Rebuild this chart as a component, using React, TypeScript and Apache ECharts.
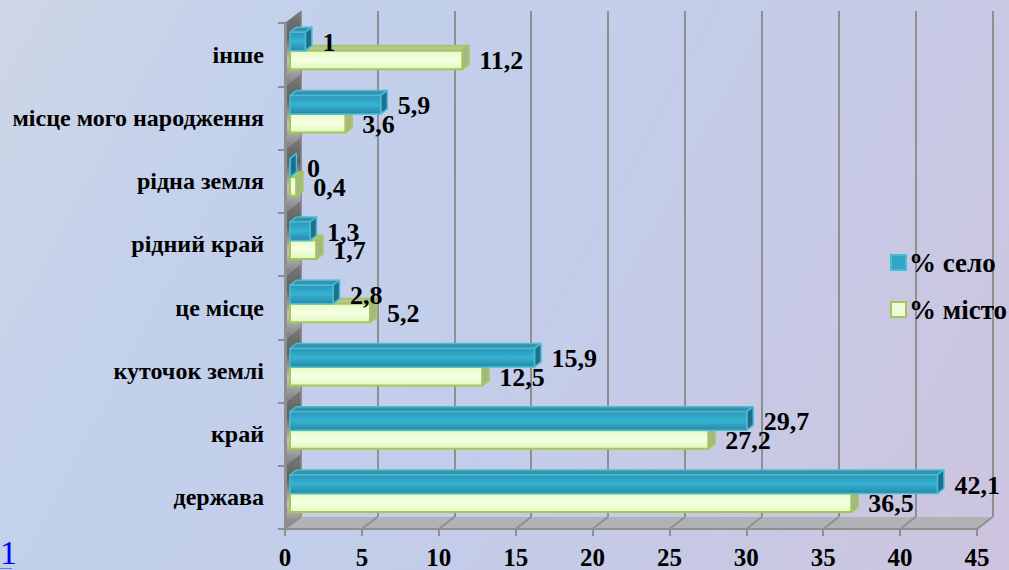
import React, { useEffect, useRef } from "react";
import * as echarts from "echarts";

const categories = ["держава", "край", "куточок землі", "це місце", "рідний край", "рідна земля", "місце мого народження", "інше"];
const seloValues = [42.1, 29.7, 15.9, 2.8, 1.3, 0, 5.9, 1];
const mistoValues = [36.5, 27.2, 12.5, 5.2, 1.7, 0.4, 3.6, 11.2];
const seloName = "% село";
const mistoName = "% місто";
const axisTicks = { min: 0, max: 45, interval: 5 };

const FONT = '"Liberation Serif", "Times New Roman", serif';
const GRAY = "#8f8f8f";
const BACK_DX = 15.5;
const BACK_DY = 12;
const BAR_DX = 5;
const BAR_DY = -4;
const SIDE_DX = 6.5;
const SIDE_DY = 5;
const BAR_H = 18.5;

const fmt = (v: number) => String(v).replace(".", ",");
const vGrad = (stops: string[]) =>
  new echarts.graphic.LinearGradient(0, 0, 0, 1, stops.map((color, i) => ({ offset: i / (stops.length - 1), color })));

type Skin = { face: string[]; top: string; side: string; border: string; lineWidth: number };
const tealSkin: Skin = { face: ["#2c95b5", "#35b3d3", "#2a86a4"], top: "#3a8fa9", side: "#1f6f8a", border: "#46bdd6", lineWidth: 1.5 };
const limeSkin: Skin = { face: ["#e6fbc6", "#f6ffe4", "#e2f8bd"], top: "#b7c2a3", side: "#a7b48b", border: "#a4c75a", lineWidth: 2 };

function barRenderer(skin: Skin, slot: number) {
  return (_p: any, api: any) => {
    const v = api.value(0);
    const c = api.value(1);
    const end = api.coord([v, c]);
    const start = api.coord([0, c]);
    const x0 = start[0] + BAR_DX;
    const x1 = end[0] + BAR_DX;
    const yT = end[1] + BAR_DY + (slot - 1) * BAR_H;
    const yB = yT + BAR_H;
    const st = { stroke: skin.border, lineWidth: skin.lineWidth, lineJoin: "round" };
    return {
      type: "group",
      children: [
        { type: "polygon", shape: { points: [[x0, yT], [x0 + SIDE_DX, yT - SIDE_DY], [x1 + SIDE_DX, yT - SIDE_DY], [x1, yT]] }, style: { fill: skin.top, ...st } },
        { type: "polygon", shape: { points: [[x1, yT], [x1 + SIDE_DX, yT - SIDE_DY], [x1 + SIDE_DX, yB - SIDE_DY], [x1, yB]] }, style: { fill: skin.side, ...st } },
        { type: "rect", shape: { x: x0, y: yT, width: x1 - x0, height: BAR_H }, style: { fill: vGrad(skin.face), ...st } },
      ],
    };
  };
}

function labelRenderer(slot: number) {
  return (_p: any, api: any) => {
    const v = api.value(0);
    const c = api.value(1);
    const p = api.coord([v, c]);
    return {
      type: "text",
      style: {
        x: p[0] + BAR_DX + 17,
        y: p[1] + BAR_DY + (slot - 0.5) * BAR_H + 1,
        text: fmt(v),
        font: `bold 26px ${FONT}`,
        fill: "#000",
        textAlign: "left",
        textVerticalAlign: "middle",
      },
    };
  };
}

const wallRenderer = (_p: any, api: any) => {
  const c = api.value(1);
  const p = api.coord([0, c]);
  const h = api.size([0, 1])[1];
  const x = p[0];
  const t = p[1] - h / 2;
  const b = p[1] + h / 2;
  return {
    type: "polygon",
    shape: { points: [[x, t], [x + BACK_DX, t - BACK_DY], [x + BACK_DX, b - BACK_DY], [x, b]] },
    style: { fill: vGrad(["#7a7a7a", "#5f5f5f", "#c4c4c4", "#777777"]) },
  };
};

const floorRenderer = (_p: any, api: any) => {
  const l = api.coord([axisTicks.min, 0]);
  const r = api.coord([axisTicks.max, 0]);
  const h = api.size([0, 1])[1];
  const y = l[1] + h / 2;
  return {
    type: "polygon",
    shape: { points: [[l[0], y], [l[0] + BACK_DX, y - BACK_DY], [r[0] + BACK_DX, y - BACK_DY], [r[0], y]] },
    style: { fill: "#b0b2b6" },
  };
};

const floorLineRenderer = (_p: any, api: any) => {
  const a = api.coord([api.value(0), 0]);
  const h = api.size([0, 1])[1];
  const y = a[1] + h / 2;
  return {
    type: "line",
    shape: { x1: a[0], y1: y, x2: a[0] + BACK_DX, y2: y - BACK_DY },
    style: { stroke: GRAY, lineWidth: 2 },
  };
};

const tickValues: number[] = [];
for (let t = axisTicks.min; t <= axisTicks.max; t += axisTicks.interval) tickValues.push(t);

export default function App() {
  const ref = useRef<HTMLDivElement>(null);
  useEffect(() => {
    document.body.style.margin = "0";
    const chart = echarts.init(ref.current!, undefined, { renderer: "svg" });
    const seloData = seloValues.map((v, i) => [v, i]);
    const mistoData = mistoValues.map((v, i) => [v, i]);
    const base = { type: "custom", xAxisIndex: 0, yAxisIndex: 0, encode: { x: 0, y: 1 }, silent: true };
    chart.setOption({
      animation: false,
      backgroundColor: "transparent",
      textStyle: { fontFamily: FONT },
      grid: [
        { left: 285, right: 32, top: 23, bottom: 41 },
        { left: 300.5, right: 16.5, top: 11, bottom: 53 },
      ],
      xAxis: [
        {
          type: "value", gridIndex: 0, ...axisTicks, z: 5,
          axisLine: { show: true, lineStyle: { color: GRAY, width: 2 } },
          axisTick: { show: true, length: 7, lineStyle: { color: GRAY, width: 2 } },
          splitLine: { show: false },
          axisLabel: { color: "#000", fontFamily: FONT, fontWeight: "bold", fontSize: 25, margin: 16, hideOverlap: false },
        },
        {
          type: "value", gridIndex: 1, ...axisTicks,
          axisLine: { show: false }, axisTick: { show: false }, axisLabel: { show: false },
          splitLine: { show: true, lineStyle: { color: GRAY, width: 2 } },
        },
      ],
      yAxis: [
        {
          type: "category", gridIndex: 0, data: categories, z: 5,
          axisLine: { show: true, onZero: false, lineStyle: { color: GRAY, width: 3 } },
          axisTick: { show: true, length: 7, lineStyle: { color: GRAY, width: 2 } },
          splitLine: { show: false },
          axisLabel: { color: "#000", fontFamily: FONT, fontWeight: "bold", fontSize: 24, margin: 21, interval: 0, padding: [4, 0, 0, 0] },
        },
        {
          type: "category", gridIndex: 1, data: categories,
          axisLine: { show: false }, axisTick: { show: false }, axisLabel: { show: false }, splitLine: { show: false },
        },
      ],
      legend: {
        data: [seloName, mistoName],
        orient: "vertical",
        left: 890,
        top: 249,
        icon: "rect",
        itemWidth: 15,
        itemHeight: 15,
        itemGap: 20,
        padding: 0,
        selectedMode: false,
        textStyle: { color: "#000", fontFamily: FONT, fontWeight: "bold", fontSize: 27, padding: [2, 0, 0, -2] },
      },
      graphic: [
        { type: "text", x: 0, y: 535, style: { text: "1", font: `34px ${FONT}`, fill: "#0000ff" } },
        { type: "rect", shape: { x: 0, y: 568, width: 12, height: 1 }, style: { fill: "#6b7bea" } },
      ],
      series: [
        { ...base, name: "wall", z: 1, data: categories.map((_, i) => [0, i]), renderItem: wallRenderer },
        { ...base, name: "floor", z: 1, data: [[0, 0]], renderItem: floorRenderer },
        { ...base, name: "floorLines", z: 1, data: tickValues.map((t) => [t, 0]), renderItem: floorLineRenderer },
        { ...base, name: mistoName, z: 3, data: mistoData, renderItem: barRenderer(limeSkin, 1), itemStyle: { color: "#eefcd8", borderColor: "#a4c75a", borderWidth: 2 } },
        { ...base, name: seloName, z: 4, data: seloData, renderItem: barRenderer(tealSkin, 0), itemStyle: { color: "#31a6c6", borderColor: "#46bdd6", borderWidth: 1 } },
        { ...base, name: "mistoLabels", z: 6, data: mistoData, renderItem: labelRenderer(1) },
        { ...base, name: "seloLabels", z: 6, data: seloData, renderItem: labelRenderer(0) },
      ],
    });
    return () => chart.dispose();
  }, []);
  return (
    <div
      style={{
        position: "fixed",
        left: 0,
        top: 0,
        width: 1009,
        height: 570,
        overflow: "hidden",
        background: "linear-gradient(118deg, #cdd6e6 0%, #c2d0ec 26%, #c3cde9 55%, #cdc4de 100%)",
      }}
    >
      <div ref={ref} style={{ width: 1009, height: 570 }} />
    </div>
  );
}
